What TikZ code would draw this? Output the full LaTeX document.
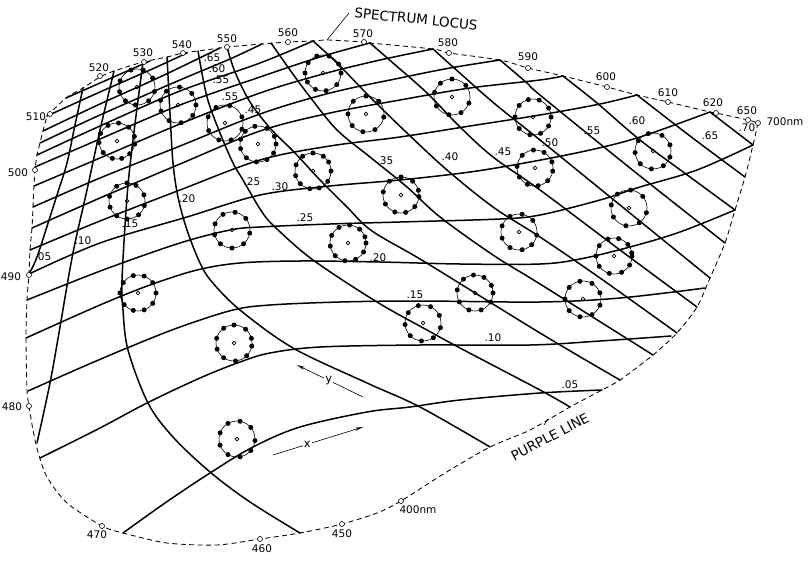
\documentclass[tikz,border=0pt]{standalone}
\usepackage{fontspec}
\setmainfont{DejaVu Sans}
\usetikzlibrary{arrows.meta}
\newcommand\spotring[3]{%
  \draw[ringline] (#1,#2) circle (18);
  \draw[ringline] (#1,#2) circle (1.9);
  \foreach \a in {#3} {\fill (#1,#2) ++(\a:18) circle (2.5);}
}
\begin{document}
\begin{tikzpicture}[x=1pt,y=-1pt,
  gridline/.style={line width=1.5pt, line join=round, line cap=round},
  locusline/.style={line width=0.85pt, dash pattern=on 5pt off 3.5pt},
  ringline/.style={line width=0.6pt},
  wlmark/.style={draw, line width=0.6pt, fill=white, circle, inner sep=0pt, minimum size=5pt},
  wl/.style={font=\fontsize{10.5}{12}\selectfont, inner sep=0pt},
  gl/.style={font=\fontsize{10.5}{12}\selectfont, inner sep=0pt},
  bigl/.style={font=\fontsize{13.5}{15}\selectfont, inner sep=0pt},
  axl/.style={font=\fontsize{11.5}{13}\selectfont, inner sep=1pt, fill=white},
  axarrow/.style={line width=0.6pt, -{Stealth[length=8pt,width=3.2pt]}}
]
\useasboundingbox (0,0) rectangle (811,562);

% ---------- boundary (spectrum locus + purple line) ----------
\draw[locusline] plot[smooth, tension=0.45] coordinates {
 (47,116) (66,98) (83,88) (100,77) (114,71) (143,62) (167,57) (183,53) (198,51)
 (220,48) (227,47) (262,44) (288,42) (313,41) (328,40) (364,42) (370,43) (433,49)
 (449,53) (500,60) (528,68) (563,76) (607,87) (637,95) (668,102) (710,112) (716,113)
 (748,120) (758,123)};
\draw[locusline] plot[smooth, tension=0.45] coordinates {
 (758,123) (756,132) (753,145) (745,177) (735,210) (725,243) (710,278) (697,307)
 (677,333) (653,355) (620,380) (602,390) (570,407) (530,430) (490,447) (445,473)
 (401,501) (377,513) (342,524) (300,533) (260,539) (217,545) (167,543) (123,533)
 (102,526) (67,503) (47,477) (38,452) (33,430) (29,406) (27,390) (26,338) (27,300)
 (29,274) (30,250) (32,228) (33,207) (34,186) (35,170) (37,155) (40,143) (43,131)
 (47,116)};

% ---------- constant-x lines ----------
\draw[gridline] plot[smooth, tension=0.55] coordinates {(83,88) (75,125) (67,163) (57,195) (50,217) (37,257) (29,274)};
\draw[gridline] plot[smooth, tension=0.55] coordinates {(114,71) (100,130) (87,190) (75,243) (68,280) (60,327) (50,383) (37,443)};
\draw[gridline] plot[smooth, tension=0.55] coordinates {(143,62) (133,140) (127,197) (122,280) (123,310) (128,350) (148,403) (173,437) (210,472) (250,502) (300,533)};
\draw[gridline] plot[smooth, tension=0.55] coordinates {(167,57) (170,113) (173,163) (178,197) (187,230) (200,263) (212,282) (240,310) (293,348) (367,383) (420,407) (490,447)};
\draw[gridline] plot[smooth, tension=0.55] coordinates {(198,51) (207,97) (220,133) (233,163) (243,180) (262,212) (276,228) (313,260) (377,302) (427,330) (460,348) (540,390) (570,407)};
\draw[gridline] plot[smooth, tension=0.55] coordinates {(227,47) (235,72) (250,102) (270,128) (295,153) (320,180) (347,207) (372,231) (425,262) (540,333) (620,380)};
\draw[gridline] plot[smooth, tension=0.55] coordinates {(271,43) (290,70) (310,97) (337,130) (370,157) (407,187) (440,217) (493,255) (540,284) (653,355)};
\draw[gridline] plot[smooth, tension=0.55] coordinates {(313,41) (337,63) (370,97) (407,133) (447,170) (493,207) (540,237) (600,278) (677,333)};
\draw[gridline] plot[smooth, tension=0.55] coordinates {(370,43) (393,63) (427,93) (460,127) (493,157) (540,190) (620,250) (697,307)};
\draw[gridline] plot[smooth, tension=0.55] coordinates {(433,49) (462,75) (495,104) (540,140) (620,205) (710,278)};
\draw[gridline] plot[smooth, tension=0.55] coordinates {(500,60) (527,83) (540,95) (630,168) (725,243)};
\draw[gridline] plot[smooth, tension=0.55] coordinates {(563,76) (597,103) (640,140) (690,177) (735,210)};
\draw[gridline] plot[smooth, tension=0.55] coordinates {(637,95) (690,136) (745,177)};
\draw[gridline] (710,112) -- (753,145);

% ---------- constant-y lines ----------
\draw[gridline] plot[smooth, tension=0.55] coordinates {(123,533) (165,503) (210,473) (253,447) (300,427) (367,412) (410,407) (460,400) (540,393) (602,390)};
\draw[gridline] plot[smooth, tension=0.55] coordinates {(40,458) (100,428) (147,403) (200,378) (240,362) (270,353) (320,347) (420,345) (530,345) (600,341) (671,336)};
\draw[gridline] plot[smooth, tension=0.55] coordinates {(28,391) (80,368) (127,348) (180,327) (233,310) (270,305) (340,302) (420,301) (540,302) (620,298) (705,288)};
\draw[gridline] plot[smooth, tension=0.55] coordinates {(26,338) (100,305) (150,285) (197,270) (240,263) (300,261) (380,262) (460,264) (540,264) (580,259) (630,247) (680,232) (735,210)};
\draw[gridline] plot[smooth, tension=0.55] coordinates {(27,300) (103,270) (180,243) (230,230) (260,227) (330,224) (400,222) (500,219) (540,215) (600,200) (640,187) (697,170) (753,145)};
\draw[gridline] plot[smooth, tension=0.55] coordinates {(29,274) (100,243) (187,217) (260,195) (330,186) (400,180) (470,172) (530,162) (590,150) (640,137) (710,112)};
\draw[gridline] plot[smooth, tension=0.55] coordinates {(30,250) (100,221) (180,190) (260,160) (330,146) (400,137) (470,126) (540,115) (600,104) (637,95)};
\draw[gridline] plot[smooth, tension=0.55] coordinates {(32,228) (100,198) (180,164) (260,131) (330,113) (400,100) (470,88) (540,80) (563,76)};
\draw[gridline] plot[smooth, tension=0.55] coordinates {(33,207) (100,178) (180,146) (260,114) (330,93) (400,78) (450,68) (500,60)};
\draw[gridline] plot[smooth, tension=0.55] coordinates {(34,186) (100,158) (180,124) (260,93) (323,74) (380,60) (433,49)};
\draw[gridline] plot[smooth, tension=0.55] coordinates {(35,167) (100,139) (180,105) (260,77) (320,57) (370,43)};
\draw[gridline] plot[smooth, tension=0.55] coordinates {(37,155) (100,126) (180,91) (260,63) (313,41)};
\draw[gridline] plot[smooth, tension=0.55] coordinates {(40,143) (100,115) (180,80) (230,59) (262,44)};
\draw[gridline] plot[smooth, tension=0.55] coordinates {(43,131) (100,104) (160,77) (220,48)};
\draw[gridline] plot[smooth, tension=0.55] coordinates {(47,116) (100,92) (150,70) (187,53)};
\draw[gridline] plot[smooth, tension=0.55] coordinates {(66,98) (100,83) (150,61)};

% ---------- discrimination ellipses ----------
\spotring{137}{87}{15,50,95,130,165,200,250,290,330}
\spotring{178}{105}{0,35,80,120,160,195,230,275,320}
\spotring{225}{123}{20,70,110,155,200,240,285,340}
\spotring{117}{141}{10,45,75,105,140,175,205,240,275,310,345}
\spotring{258}{144}{0,30,60,95,130,165,195,225,260,300,335}
\spotring{127}{201}{15,50,90,125,160,195,235,270,300,340}
\spotring{313}{171}{0,35,70,100,135,165,200,235,270,305,330}
\spotring{232}{230}{10,50,90,130,165,200,240,280,320}
\spotring{323}{73}{0,40,80,115,150,180,215,250,290,330}
\spotring{366}{114}{10,60,100,140,180,225,270,315}
\spotring{401}{195}{5,40,75,110,150,190,230,270,310,345}
\spotring{348}{243}{0,30,65,100,135,170,205,240,275,310,340}
\spotring{452}{97}{20,60,100,150,195,230,270,320}
\spotring{533}{117}{0,30,65,100,140,180,220,255,290,330}
\spotring{535}{168}{10,45,80,115,150,185,225,265,300,340}
\spotring{653}{151}{20,55,95,135,175,215,255,300,340}
\spotring{629}{208}{15,55,100,150,190,230,275,320}
\spotring{614}{256}{0,30,65,105,145,180,215,250,285,320,350}
\spotring{519}{232}{10,45,80,120,160,200,240,280,320}
\spotring{138}{293}{0,35,70,105,140,180,215,255,290,325}
\spotring{234}{343}{10,45,85,125,160,195,235,270,310,345}
\spotring{237}{439}{5,40,80,120,160,200,240,280,320}
\spotring{423}{323}{15,55,95,135,175,215,255,295,335}
\spotring{475}{293}{0,30,70,110,150,190,230,265,300,335}
\spotring{583}{299}{20,60,100,140,180,220,260,300,340}

% ---------- wavelength markers ----------
\foreach \n/\p/\q in {m470/102/526, m460/260/539, m450/342/524, m400/401/501,
  m480/29/406, m490/29/275, m500/35/170, m510/50/114, m520/100/76, m530/144/62,
  m540/183/53, m550/227/47, m560/288/42, m570/364/42, m580/449/53, m590/528/68,
  m600/607/87, m610/668/102, m620/716/113, m650/748/120, m700/758/123}
  {\node[wlmark] (\n) at (\p,\q) {};}

\node[wl] (t470) at (97,535) {470};
\node[wl] (t460) at (262,549) {460};
\node[wl] (t450) at (342,534) {450};
\node[wl] (t400) at (418,510) {400nm};
\node[wl] (t480) at (12,407) {480};
\node[wl] (t490) at (11,277) {490};
\node[wl] (t500) at (18,173) {500};
\node[wl] (t510) at (36,117) {510};
\node[wl] (t520) at (99,68) {520};
\node[wl] (t530) at (143,53) {530};
\node[wl] (t540) at (182,45) {540};
\node[wl] (t550) at (227,39) {550};
\node[wl] (t560) at (288,33) {560};
\node[wl] (t570) at (363,34) {570};
\node[wl] (t580) at (448,43) {580};
\node[wl] (t590) at (528,57) {590};
\node[wl] (t600) at (606,77) {600};
\node[wl] (t610) at (668,93) {610};
\node[wl] (t620) at (713,103) {620};
\node[wl] (t650) at (747,111) {650};
\node[wl] (t700) at (785,122) {700nm};

% ---------- grid labels ----------
\node[gl] (x05) at (43,257) {.05};
\node[gl] (x10) at (83,241) {.10};
\node[gl] (x15) at (130,224) {.15};
\node[gl] (x20) at (187,199) {.20};
\node[gl] (x25) at (252,182) {.25};
\node[gl] (x35) at (385,161) {.35};
\node[gl] (x40) at (450,157) {.40};
\node[gl] (x45) at (503,152) {.45};
\node[gl] (x50) at (550,143) {.50};
\node[gl] (x55) at (592,131) {.55};
\node[gl] (x60) at (637,121) {.60};
\node[gl] (x65) at (710,136) {.65};
\node[gl] (x70) at (747,128) {.70};
\node[gl] (y65) at (212,58) {.65};
\node[gl] (y60) at (217,69) {.60};
\node[gl] (y55) at (221,80) {.55};
\node[gl] (y50) at (230,97) {.55};
\node[gl] (y45) at (253,110) {.45};
\node[gl] (y30) at (280,187) {.30};
\node[gl] (y25) at (305,218) {.25};
\node[gl] (y20) at (378,258) {.20};
\node[gl] (y15) at (415,295) {.15};
\node[gl] (y10) at (493,338) {.10};
\node[gl] (y05) at (570,385) {.05};

% ---------- titles ----------
\node[bigl, rotate=-6] (spec) at (416,19) {SPECTRUM LOCUS};
\coordinate (specstart) at (349,13);
\coordinate (specend) at (327,40);
\draw[line width=0.6pt] (specstart) -- (specend);
\node[bigl, rotate=28] (purple) at (550,437) {PURPLE LINE};
\coordinate (purpA) at (548,419);
\coordinate (purpB) at (544,425);
\draw[line width=0.6pt] (purpA) -- (purpB);

% ---------- axis arrows ----------
\coordinate (ya) at (363,397);
\coordinate (yb) at (297,365);
\draw[axarrow] (ya) -- node[axl, pos=0.52] (ylab) {y} (yb);
\coordinate (xa) at (273,455);
\coordinate (xb) at (363,427);
\draw[axarrow] (xa) -- node[axl, pos=0.38] (xlab) {x} (xb);
\end{tikzpicture}
\end{document}
